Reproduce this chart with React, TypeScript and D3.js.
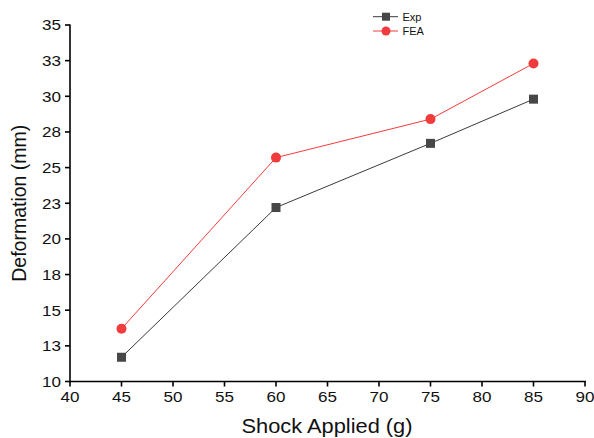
import React from "react";
import * as d3 from "d3";

const shock = [45, 60, 75, 85];
const expValues = [11.7, 22.2, 26.7, 29.8];
const feaValues = [13.7, 25.7, 28.4, 32.3];
const xTicks = [40, 45, 50, 55, 60, 65, 70, 75, 80, 85, 90];
const yTicks = [10, 12.5, 15, 17.5, 20, 22.5, 25, 27.5, 30, 32.5, 35];

const width = 594,
  height = 438;

const App = () => {
  const x = d3.scaleLinear().domain([40, 90]).range([70, 585]);
  const y = d3.scaleLinear().domain([10, 35]).range([381.5, 25]);

  const line = d3
    .line<number>()
    .x((d, i) => x(shock[i]))
    .y((d) => y(d));

  const font = "Liberation Sans, Arial, sans-serif";
  // the original text is a bit wider than Arial
  const sx = 1.1;

  return (
    <svg
      width={width}
      height={height}
      style={{ position: "absolute", left: 0, top: 0, background: "#fff" }}
      fontFamily={font}
    >
      {/* lines */}
      <path d={line(expValues) || ""} fill="none" stroke="#3a3a3a" strokeWidth={1} />
      <path d={line(feaValues) || ""} fill="none" stroke="#f53b3b" strokeWidth={1} />

      {expValues.map((v, i) => (
        <rect
          key={`e${i}`}
          x={x(shock[i]) - 4.5}
          y={y(v) - 4.5}
          width={9}
          height={9}
          fill="#474747"
        />
      ))}
      {feaValues.map((v, i) => (
        <circle key={`f${i}`} cx={x(shock[i])} cy={y(v)} r={5} fill="#f03c3c" />
      ))}

      {/* axes */}
      <g stroke="#000" strokeWidth={1.6}>
        <line x1={x(40)} x2={x(90) + 1} y1={y(10)} y2={y(10)} />
        <line x1={x(40)} x2={x(40)} y1={y(10) + 1} y2={y(35) - 0.5} />
        {xTicks.map((t) => (
          <line key={t} x1={x(t)} x2={x(t)} y1={y(10)} y2={y(10) + 5} />
        ))}
        {yTicks.map((t) => (
          <line key={t} x1={x(40) - 5} x2={x(40)} y1={y(t)} y2={y(t)} />
        ))}
      </g>
      <g fontSize={15.5} fill="#111">
        {xTicks.map((t) => (
          <text
            key={t}
            transform={`translate(${x(t)},${y(10) + 20}) scale(${sx},1)`}
            textAnchor="middle"
          >
            {t}
          </text>
        ))}
        {yTicks.map((t) => (
          <text
            key={t}
            transform={`translate(${x(40) - 9},${y(t)}) scale(${sx},1)`}
            dy="0.35em"
            textAnchor="end"
          >
            {d3.format(".0f")(Math.round(t))}
          </text>
        ))}
      </g>

      {/* titles */}
      <text
        transform={`translate(327,433) scale(1.12,1)`}
        textAnchor="middle"
        fontSize={19.5}
        fill="#111"
      >
        Shock Applied (g)
      </text>
      <text
        transform={`translate(26,${y(22.5)}) rotate(-90)`}
        textAnchor="middle"
        fontSize={19.5}
        fill="#111"
      >
        Deformation (mm)
      </text>

      {/* legend */}
      <g fontSize={11} fill="#111">
        <line x1={373} x2={398} y1={16.7} y2={16.7} stroke="#3a3a3a" strokeWidth={1} />
        <rect x={382} y={12.7} width={8} height={8} fill="#474747" />
        <text x={402.5} y={16.7} dy="0.35em">Exp</text>
        <line x1={373} x2={398} y1={31} y2={31} stroke="#f53b3b" strokeWidth={1} />
        <circle cx={386} cy={31} r={4.5} fill="#f03c3c" />
        <text x={402.5} y={31} dy="0.35em">FEA</text>
      </g>
    </svg>
  );
};

export default App;
